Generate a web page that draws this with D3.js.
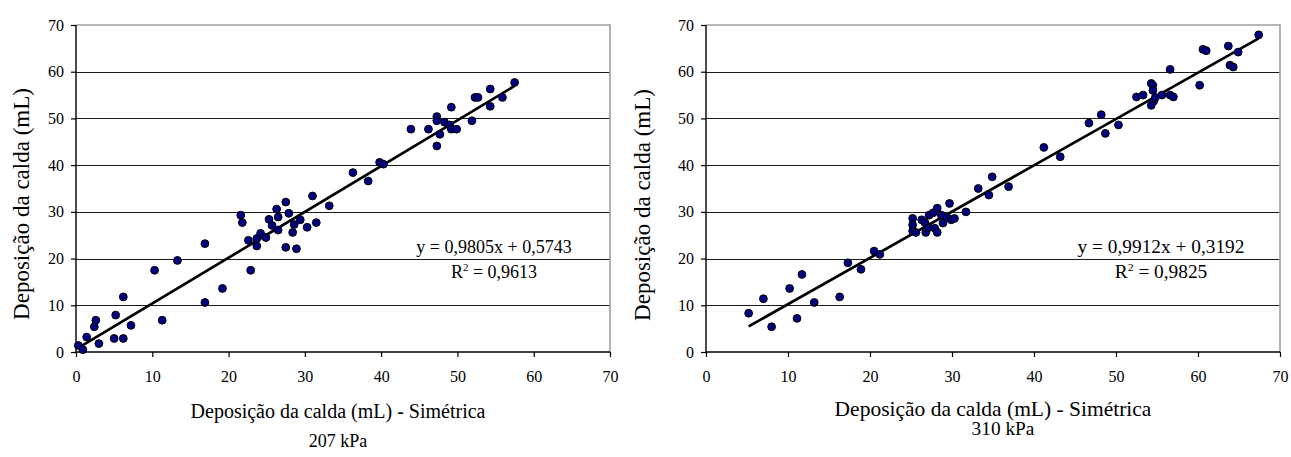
<!DOCTYPE html>
<html>
<head>
<meta charset="utf-8">
<script src="https://cdn.jsdelivr.net/npm/d3@7"></script>
<style>
  html, body { margin: 0; padding: 0; background: #fff; }
  svg { display: block; }
</style>
</head>
<body>
<svg id="chart" width="1291" height="457"></svg>
<script>
// ---------- data ----------
const xTicks = [0, 10, 20, 30, 40, 50, 60, 70];
const yTicks = [0, 10, 20, 30, 40, 50, 60, 70];

const yTitle = "Deposição da calda (mL)";
const xTitle = "Deposição da calda (mL) - Simétrica";

// 207 kPa
const leftX = [0.3, 0.9, 1.4, 2.6, 2.4, 3.0, 5.0, 6.2, 5.2, 6.2, 7.2, 10.3, 11.3, 13.3, 16.9, 16.9, 19.2,
  21.6, 21.8, 22.9, 22.6, 23.7, 23.7, 24.2, 24.9, 25.3, 25.7, 26.3, 26.5, 26.5, 27.5, 27.9, 27.5, 28.4,
  28.6, 28.9, 29.4, 30.3, 31.0, 31.5, 33.2, 36.3, 38.3, 39.8, 40.3, 43.9, 46.2, 47.3, 47.3, 47.7, 47.3,
  48.3, 49.0, 49.2, 49.9, 49.2, 51.9, 52.3, 52.7, 54.3, 54.3, 55.9, 57.5];
const leftY = [1.4, 0.5, 3.2, 6.8, 5.4, 1.8, 2.9, 2.9, 7.9, 11.8, 5.7, 17.5, 6.8, 19.6, 23.2, 10.6, 13.6,
  29.3, 27.7, 17.5, 23.9, 22.7, 24.3, 25.4, 24.5, 28.4, 27.1, 30.6, 28.9, 26.1, 32.1, 29.7, 22.4, 25.6,
  27.3, 22.1, 28.3, 26.7, 33.4, 27.7, 31.3, 38.4, 36.6, 40.6, 40.2, 47.7, 47.7, 50.4, 49.5, 46.6, 44.1,
  49.2, 48.6, 47.7, 47.7, 52.4, 49.5, 54.5, 54.5, 56.3, 52.6, 54.5, 57.7];
const leftFit = [0.9805, 0.5743];
const leftEq = ["y = 0,9805x + 0,5743", "0,9613"];
const leftLabel = "207 kPa";

// 310 kPa
const rightX = [5.2, 7.0, 8.0, 10.2, 11.1, 11.7, 13.2, 16.3, 17.3, 18.9, 20.5, 21.2,
  25.2, 25.2, 25.2, 25.6, 26.3, 26.7, 26.8, 27.1, 27.2, 27.7, 28.2, 27.9, 28.2, 28.7, 28.9, 29.4, 29.7,
  29.9, 30.3, 31.7, 33.2, 34.5, 34.9, 36.9, 41.2, 43.2,
  46.7, 48.2, 48.7, 50.3, 52.5, 53.3, 54.3, 54.5, 54.5, 54.6, 54.3, 54.8, 55.6, 56.6, 56.6, 57.0, 60.2,
  60.6, 61.0, 63.7, 63.9, 64.3, 64.9, 67.4];
const rightY = [8.3, 11.4, 5.4, 13.6, 7.2, 16.6, 10.6, 11.8, 19.1, 17.7, 21.6, 20.9,
  28.6, 27.2, 25.9, 25.6, 28.3, 27.7, 25.6, 26.6, 29.3, 29.8, 30.8, 26.5, 25.6, 29.3, 27.6, 28.8, 31.8,
  28.3, 28.6, 30.0, 35.0, 33.6, 37.5, 35.4, 43.8, 41.8,
  49.0, 50.8, 46.8, 48.6, 54.6, 55.0, 57.5, 57.1, 56.0, 53.7, 52.8, 54.5, 55.0, 60.5, 55.0, 54.6, 57.1,
  64.8, 64.5, 65.5, 61.4, 61.0, 64.2, 67.9];
const rightFit = [0.9912, 0.3192];
const rightEq = ["y = 0,9912x + 0,3192", "0,9825"];
const rightLabel = "310 kPa";

// ---------- drawing ----------
const FONT = "'Liberation Serif'";
const svg = d3.select("#chart");

function drawChart(cfg) {
  const g = svg.append("g");
  const x = d3.scaleLinear().domain([0, 70]).range([cfg.x0, cfg.x1]);
  const y = d3.scaleLinear().domain([0, 70]).range([cfg.y0, cfg.y1]);
  const sx = cfg.sx;

  // gridlines
  g.append("g").selectAll("line").data(yTicks.filter(d => d > 0 && d < 70)).join("line")
    .attr("x1", cfg.x0).attr("x2", cfg.x1)
    .attr("y1", d => Math.round(y(d)) + 0.5).attr("y2", d => Math.round(y(d)) + 0.5)
    .attr("stroke", "#1a1a1a").attr("stroke-width", 1);

  // top & right border (gray)
  g.append("path")
    .attr("d", `M${cfg.x0},${y(70)}H${cfg.x1}V${cfg.y0}`)
    .attr("fill", "none").attr("stroke", "#a0a0a0").attr("stroke-width", 1.6);

  // axes
  const yAxis = d3.axisLeft(y).tickValues(yTicks).tickSize(5).tickPadding(7).tickFormat(d3.format("d"));
  const ya = g.append("g").attr("transform", `translate(${cfg.x0},0)`).call(yAxis);
  const xAxis = d3.axisBottom(x).tickValues(xTicks).tickSize(5).tickPadding(14).tickFormat(d3.format("d"));
  const xa = g.append("g").attr("transform", `translate(0,${cfg.y0})`).call(xAxis);
  [ya, xa].forEach(a => {
    a.attr("font-family", null).attr("font-size", null);
    a.select(".domain").attr("stroke", "#000").attr("stroke-width", 1.4);
    a.selectAll(".tick line").attr("stroke", "#000").attr("stroke-width", 1.2);
    a.selectAll(".tick text").style("font-family", FONT).style("font-size", "16px").attr("fill", "#000");
  });
  ya.select(".domain").attr("d", `M0,${cfg.y0}V${y(70)}`);
  xa.select(".domain").attr("d", `M${cfg.x0},0H${cfg.x1}`);

  // trendline
  const xs = d3.extent(cfg.xs);
  g.append("line")
    .attr("x1", x(xs[0])).attr("y1", y(cfg.fit[0] * xs[0] + cfg.fit[1]))
    .attr("x2", x(xs[1])).attr("y2", y(cfg.fit[0] * xs[1] + cfg.fit[1]))
    .attr("stroke", "#000").attr("stroke-width", 2.7);

  // points
  const pts = cfg.xs.map((v, i) => [v, cfg.ys[i]]);
  g.append("g").selectAll("circle").data(pts).join("circle")
    .attr("cx", d => x(d[0])).attr("cy", d => y(d[1])).attr("r", 3.9)
    .attr("fill", "#000080").attr("stroke", "#000").attr("stroke-width", 1);

  const txt = (sel) => sel.style("font-family", FONT).attr("fill", "#000");

  // equation text
  txt(g.append("text"))
    .attr("transform", `translate(${cfg.eqX},${cfg.eqY}) scale(${sx},1)`)
    .attr("text-anchor", "middle").style("font-size", "18px").text(cfg.eq[0]);
  const r2 = txt(g.append("text"))
    .attr("transform", `translate(${cfg.eqX},${cfg.eqY + 25}) scale(${sx},1)`)
    .attr("text-anchor", "middle").style("font-size", "18px");
  r2.append("tspan").text("R");
  r2.append("tspan").style("font-size", "11px").attr("dy", -7).text("2");
  r2.append("tspan").attr("dy", 7).text(" = " + cfg.eq[1]);

  // y title
  txt(g.append("text"))
    .attr("transform", `translate(${cfg.yTitleX},${cfg.yTitleY}) rotate(-90)`)
    .attr("text-anchor", "middle").style("font-size", "23px").text(yTitle);

  // x title
  txt(g.append("text"))
    .attr("transform", `translate(${cfg.xTitleX},${cfg.xTitleY}) scale(${sx},1)`)
    .attr("text-anchor", "middle").style("font-size", "20px").text(xTitle);

  // pressure label
  txt(g.append("text"))
    .attr("transform", `translate(${cfg.labelX},${cfg.labelY}) scale(${sx},1)`)
    .attr("text-anchor", "middle").style("font-size", "18px").text(cfg.label);
}

drawChart({
  x0: 76, x1: 610, y0: 352, y1: 25, sx: 1,
  xs: leftX, ys: leftY, fit: leftFit, eq: leftEq,
  eqX: 494, eqY: 253, yTitleX: 29, yTitleY: 204,
  xTitleX: 338, xTitleY: 418, labelX: 338, labelY: 447, label: leftLabel
});
drawChart({
  x0: 706, x1: 1280, y0: 352, y1: 25, sx: 1.075,
  xs: rightX, ys: rightY, fit: rightFit, eq: rightEq,
  eqX: 1161, eqY: 253, yTitleX: 650, yTitleY: 205,
  xTitleX: 993, xTitleY: 416, labelX: 1003, labelY: 435, label: rightLabel
});
</script>
</body>
</html>
